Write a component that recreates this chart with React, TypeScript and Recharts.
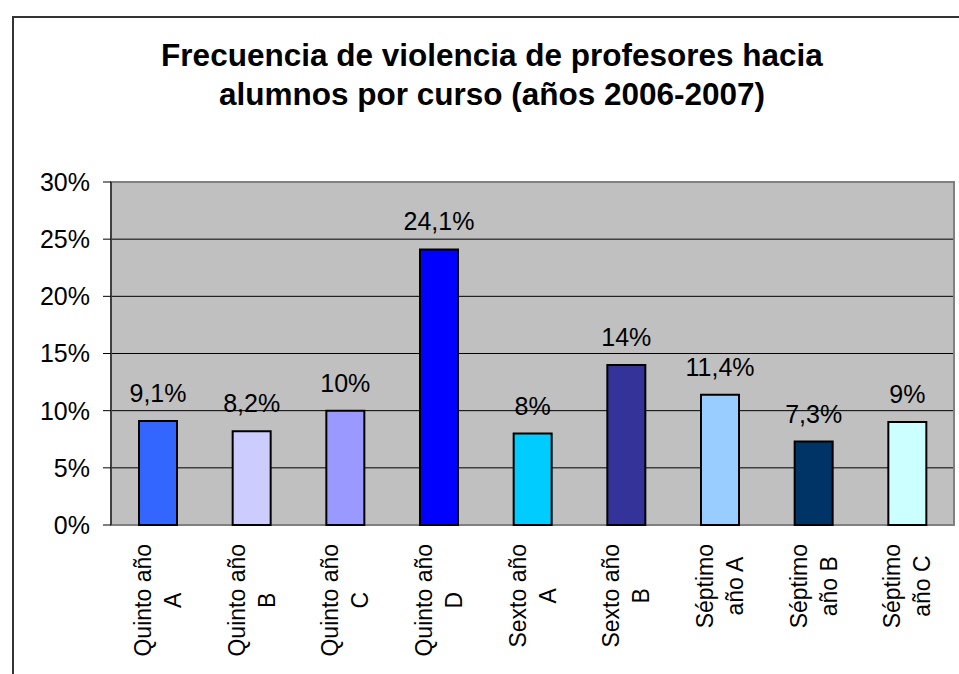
import React from "react";
import {
  BarChart,
  Bar,
  XAxis,
  YAxis,
  CartesianGrid,
  Cell,
  LabelList,
  ReferenceArea,
} from "recharts";

const cursos = [
  "Quinto año A",
  "Quinto año B",
  "Quinto año C",
  "Quinto año D",
  "Sexto año A",
  "Sexto año B",
  "Séptimo año A",
  "Séptimo año B",
  "Séptimo año C",
];

// etiquetas del eje tal como se cortan en el original
const etiquetas = [
  ["Quinto año", "A"],
  ["Quinto año", "B"],
  ["Quinto año", "C"],
  ["Quinto año", "D"],
  ["Sexto año", "A"],
  ["Sexto año", "B"],
  ["Séptimo", "año A"],
  ["Séptimo", "año B"],
  ["Séptimo", "año C"],
];

const frecuencia = [9.1, 8.2, 10, 24.1, 8, 14, 11.4, 7.3, 9];

const colores = [
  "#3366FF",
  "#CCCCFF",
  "#9999FF",
  "#0000FF",
  "#00CCFF",
  "#333399",
  "#99CCFF",
  "#003366",
  "#CCFFFF",
];

const yTicks = [0, 5, 10, 15, 20, 25, 30];
const bordes = [0, 1, 2, 3, 4, 5, 6, 7, 8, 9];

const data = cursos.map((curso, i) => ({ curso, valor: frecuencia[i] }));

const FONT = "'Liberation Sans', Arial, sans-serif";

const pct = (v: number) => String(v).replace(".", ",") + "%";

let ctx: CanvasRenderingContext2D | null = null;
const medir = (s: string, size: number) => {
  if (!ctx) ctx = document.createElement("canvas").getContext("2d");
  if (!ctx) return s.length * size * 0.5;
  ctx.font = `${size}px 'Liberation Sans', Arial, sans-serif`;
  return ctx.measureText(s).width;
};

const XTick = (props: any) => {
  const { x, y, payload } = props;
  const lines = etiquetas[payload.index] || [String(payload.value)];
  const size = 23;
  const maxW = Math.max(...lines.map((l) => medir(l, size)));
  const cx = -(19 + maxW / 2);
  const first = -7;
  return (
    <g transform={`translate(${x},${y}) rotate(-90)`}>
      {lines.map((l, i) => (
        <text
          key={i}
          x={cx}
          y={first + i * 30}
          textAnchor="middle"
          fontSize={size}
          fontFamily={FONT}
          fill="#000"
        >
          {l}
        </text>
      ))}
    </g>
  );
};

const ValueLabel = (props: any) => {
  const { x, y, width, value } = props;
  return (
    <text
      x={x + width / 2}
      y={y - 19}
      textAnchor="middle"
      fontSize={25}
      fontFamily={FONT}
      fill="#000"
    >
      {pct(value)}
    </text>
  );
};

export default function App() {
  return (
    <div
      style={{
        position: "fixed",
        left: 0,
        top: 0,
        width: 959,
        height: 674,
        overflow: "hidden",
        background: "#fff",
      }}
    >
      <div
        style={{
          position: "absolute",
          left: 12,
          top: 16,
          width: 980,
          height: 720,
          border: "2px solid #333",
          boxSizing: "border-box",
        }}
      />
      <div
        style={{
          position: "absolute",
          left: 42,
          width: 900,
          top: 36,
          textAlign: "center",
          fontFamily: FONT,
          fontWeight: "bold",
          fontSize: 31.5,
          lineHeight: "39px",
          color: "#000",
        }}
      >
        Frecuencia de violencia de profesores hacia
        <br />
        alumnos por curso (años 2006-2007)
      </div>
      <div style={{ position: "absolute", left: 0, top: 0 }}>
        <BarChart
          width={959}
          height={674}
          data={data}
          margin={{ top: 182, right: 5, left: 0, bottom: 9 }}
        >
          <CartesianGrid
            vertical={false}
            stroke="#000"
            fill="#C0C0C0"
            horizontalValues={[5, 10, 15, 20, 25]}
          />
          <ReferenceArea y1={0} y2={30} fill="none" stroke="#808080" strokeWidth={2} />
          <XAxis
            xAxisId="bordes"
            type="number"
            domain={[0, 9]}
            ticks={bordes}
            allowDataOverflow
            tick={false}
            tickSize={8}
            height={0}
            stroke="#000"
          />
          <XAxis
            dataKey="curso"
            height={140}
            axisLine={false}
            tickLine={false}
            tickSize={0}
            tickMargin={0}
            interval={0}
            tick={<XTick />}
          />
          <YAxis
            width={111}
            domain={[0, 30]}
            ticks={yTicks}
            tickFormatter={(v) => `${v}%`}
            tickSize={8}
            tickMargin={13}
            stroke="#000"
            tick={{ fontSize: 25, fontFamily: FONT, fill: "#000" }}
          />
          <Bar
            dataKey="valor"
            barSize={38}
            stroke="#000"
            strokeWidth={2}
            isAnimationActive={false}
          >
            {data.map((d, i) => (
              <Cell key={d.curso} fill={colores[i]} />
            ))}
            <LabelList dataKey="valor" content={<ValueLabel />} />
          </Bar>
        </BarChart>
      </div>
    </div>
  );
}
